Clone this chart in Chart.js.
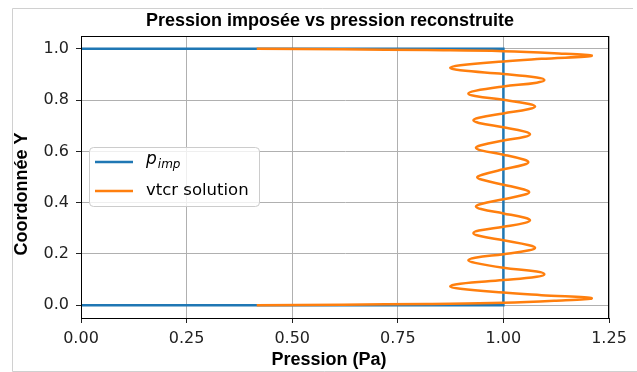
<!DOCTYPE html>
<html>
<head>
<meta charset="utf-8">
<script src="https://cdn.jsdelivr.net/npm/chart.js@4/dist/chart.umd.min.js"></script>
<style>
  body { margin: 0; background: #fff; }
  canvas { display: block; }
</style>
</head>
<body>
<canvas id="pressionChart" width="637" height="372"></canvas>
<script>
// p_imp : imposed pressure (step profile)
const impX = [0.0, 1.0, 1.0, 0.0];
const impY = [0.0, 0.0, 1.0, 1.0];

// vtcr solution : reconstructed pressure (bottom -> top)
const vtcrX = [
  0.416, 0.62, 0.82, 1.00, 1.12, 1.209, 1.09, 1.00,
  0.898, 0.874, 0.898, 1.00, 1.079, 1.097, 1.079, 1.00,
  0.933, 0.917, 0.933, 1.00, 1.061, 1.075, 1.061, 1.00,
  0.942, 0.929, 0.942, 1.00, 1.051, 1.063, 1.051, 1.00,
  0.947, 0.935, 0.947, 1.00, 1.049, 1.061, 1.049, 1.00,
  0.950, 0.938, 0.950, 1.00, 1.048, 1.059, 1.048, 1.00,
  0.947, 0.935, 0.947, 1.00, 1.051, 1.063, 1.051, 1.00,
  0.942, 0.929, 0.942, 1.00, 1.061, 1.075, 1.061, 1.00,
  0.933, 0.917, 0.933, 1.00, 1.079, 1.097, 1.079, 1.00,
  0.898, 0.874, 0.898, 1.00, 1.09, 1.209, 1.12, 1.00,
  0.82, 0.62, 0.416
];
const vtcrY = [
  0.000, 0.002, 0.005, 0.009, 0.017, 0.027, 0.039, 0.049,
  0.064, 0.074, 0.084, 0.098, 0.111, 0.121, 0.131, 0.146,
  0.165, 0.175, 0.185, 0.199, 0.214, 0.224, 0.234, 0.253,
  0.271, 0.281, 0.291, 0.306, 0.321, 0.331, 0.341, 0.358,
  0.375, 0.385, 0.395, 0.413, 0.431, 0.441, 0.451, 0.470,
  0.489, 0.499, 0.509, 0.530, 0.548, 0.558, 0.568, 0.587,
  0.604, 0.614, 0.624, 0.642, 0.657, 0.667, 0.677, 0.694,
  0.711, 0.721, 0.731, 0.748, 0.765, 0.775, 0.785, 0.801,
  0.816, 0.826, 0.836, 0.853, 0.868, 0.878, 0.888, 0.902,
  0.916, 0.926, 0.936, 0.951, 0.961, 0.973, 0.983, 0.991,
  0.995, 0.998, 1.000
];

const seriesNames = ['p', 'vtcr solution'];
const xTicks = [0.00, 0.25, 0.50, 0.75, 1.00, 1.25];
const yTicks = [0.0, 0.2, 0.4, 0.6, 0.8, 1.0];

const BLUE = '#1f77b4';
const ORANGE = '#ff7f0e';

function toPoints(xs, ys) {
  return xs.map((x, i) => ({ x: x, y: ys[i] }));
}

// titles, spines, frame and legend drawn like the matplotlib figure
const decorPlugin = {
  id: 'decor',
  beforeDraw(chart) {
    const ctx = chart.ctx;
    ctx.save();
    ctx.fillStyle = '#fff';
    ctx.fillRect(0, 0, chart.width, chart.height);
    ctx.strokeStyle = '#d0d0d0';
    ctx.lineWidth = 1;
    ctx.beginPath();
    ctx.moveTo(12.5, 371.5); ctx.lineTo(12.5, 8.5); ctx.lineTo(633, 8.5);
    ctx.moveTo(12.5, 371.5); ctx.lineTo(637, 371.5);
    ctx.stroke();
    ctx.restore();
  },
  afterDraw(chart) {
    const ctx = chart.ctx;
    const a = chart.chartArea;
    ctx.save();

    // spines
    ctx.strokeStyle = '#000';
    ctx.lineWidth = 1;
    ctx.strokeRect(a.left + 0.5, a.top + 0.5, a.right - a.left - 1, a.bottom - a.top);

    // title + axis labels
    ctx.fillStyle = '#000';
    ctx.textAlign = 'center';
    ctx.textBaseline = 'middle';
    ctx.font = 'bold 18px "Liberation Sans", Arial, sans-serif';
    ctx.fillText('Pression imposée vs pression reconstruite', 330, 21);
    ctx.fillText('Pression (Pa)', 329, 360);
    ctx.save();
    ctx.translate(22, 194);
    ctx.rotate(-Math.PI / 2);
    ctx.fillText('Coordonnée Y', 0, 0);
    ctx.restore();

    // legend
    const lx = 89.5, ly = 147.5, lw = 170, lh = 59, r = 4;
    ctx.beginPath();
    ctx.moveTo(lx + r, ly);
    ctx.arcTo(lx + lw, ly, lx + lw, ly + lh, r);
    ctx.arcTo(lx + lw, ly + lh, lx, ly + lh, r);
    ctx.arcTo(lx, ly + lh, lx, ly, r);
    ctx.arcTo(lx, ly, lx + lw, ly, r);
    ctx.closePath();
    ctx.fillStyle = 'rgba(255,255,255,0.8)';
    ctx.fill();
    ctx.strokeStyle = '#cccccc';
    ctx.stroke();

    ctx.lineWidth = 2.5;
    ctx.strokeStyle = BLUE;
    ctx.beginPath(); ctx.moveTo(95, 162); ctx.lineTo(133, 162); ctx.stroke();
    ctx.strokeStyle = ORANGE;
    ctx.beginPath(); ctx.moveTo(95, 191); ctx.lineTo(133, 191); ctx.stroke();

    ctx.fillStyle = '#000';
    ctx.textAlign = 'left';
    ctx.textBaseline = 'alphabetic';
    ctx.font = 'italic 17px "DejaVu Sans", sans-serif';
    ctx.fillText(seriesNames[0], 146, 164);
    const pw = ctx.measureText(seriesNames[0]).width;
    ctx.font = 'italic 12px "DejaVu Sans", sans-serif';
    ctx.fillText('imp', 146 + pw + 1, 168);
    ctx.font = '16.5px "DejaVu Sans", sans-serif';
    ctx.textBaseline = 'middle';
    ctx.fillText(seriesNames[1], 146, 191);

    ctx.restore();
  }
};

new Chart(document.getElementById('pressionChart').getContext('2d'), {
  type: 'scatter',
  data: {
    datasets: [
      {
        label: 'p_imp',
        data: toPoints(impX, impY),
        showLine: true,
        borderColor: BLUE,
        borderWidth: 2.5,
        pointRadius: 0,
        tension: 0,
        order: 1
      },
      {
        label: 'vtcr solution',
        data: toPoints(vtcrX, vtcrY),
        showLine: true,
        borderColor: ORANGE,
        borderWidth: 2.5,
        pointRadius: 0,
        tension: 0.4,
        order: 0
      }
    ]
  },
  options: {
    responsive: false,
    animation: false,
    devicePixelRatio: 1,
    layout: { padding: { left: 0, right: 28, top: 36, bottom: 0 } },
    plugins: {
      legend: { display: false },
      title: { display: false },
      tooltip: { enabled: false }
    },
    scales: {
      x: {
        type: 'linear',
        min: 0,
        max: 1.25,
        afterFit: s => { s.height = 54; },
        afterBuildTicks: s => { s.ticks = xTicks.map(v => ({ value: v })); },
        ticks: {
          padding: 6,
          color: '#222',
          font: { family: '"DejaVu Sans", sans-serif', size: 16 },
          callback: v => Number(v).toFixed(2)
        },
        grid: { color: '#b0b0b0', lineWidth: 1, tickLength: 5, tickColor: '#222' },
        border: { color: '#000', width: 1 }
      },
      y: {
        type: 'linear',
        min: -0.05,
        max: 1.05,
        afterFit: s => { s.width = 81; },
        afterBuildTicks: s => { s.ticks = yTicks.map(v => ({ value: v })); },
        ticks: {
          padding: 7,
          color: '#222',
          font: { family: '"DejaVu Sans", sans-serif', size: 16 },
          callback: v => Number(v).toFixed(1)
        },
        grid: { color: '#b0b0b0', lineWidth: 1, tickLength: 5, tickColor: '#222' },
        border: { color: '#000', width: 1 }
      }
    }
  },
  plugins: [decorPlugin]
});
</script>
</body>
</html>
